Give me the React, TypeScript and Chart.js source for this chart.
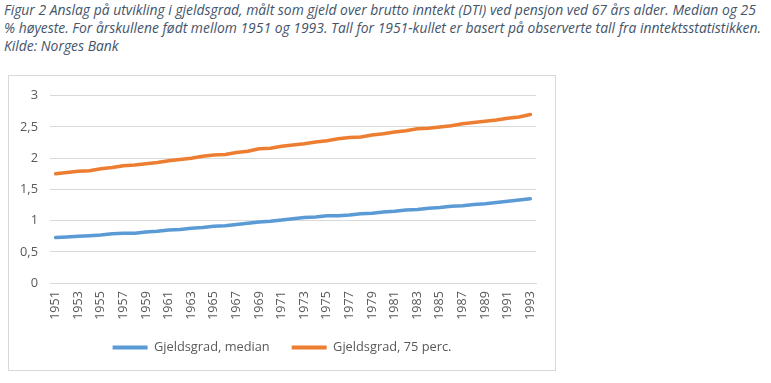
import React, { useEffect, useRef } from "react";
import { Chart, registerables } from "chart.js";

Chart.register(...registerables);

const years = [
  "1951", "1952", "1953", "1954", "1955", "1956", "1957", "1958", "1959", "1960",
  "1961", "1962", "1963", "1964", "1965", "1966", "1967", "1968", "1969", "1970",
  "1971", "1972", "1973", "1974", "1975", "1976", "1977", "1978", "1979", "1980",
  "1981", "1982", "1983", "1984", "1985", "1986", "1987", "1988", "1989", "1990",
  "1991", "1992", "1993",
];

const median = [
  0.73, 0.74, 0.75, 0.76, 0.77, 0.79, 0.8, 0.8, 0.82, 0.83,
  0.85, 0.86, 0.88, 0.89, 0.91, 0.92, 0.94, 0.96, 0.98, 0.99,
  1.01, 1.03, 1.05, 1.06, 1.08, 1.08, 1.09, 1.11, 1.12, 1.14,
  1.15, 1.17, 1.18, 1.2, 1.21, 1.23, 1.24, 1.26, 1.27, 1.29,
  1.31, 1.33, 1.35,
];

const p75 = [
  1.75, 1.77, 1.79, 1.8, 1.83, 1.85, 1.88, 1.89, 1.91, 1.93,
  1.96, 1.98, 2.0, 2.03, 2.05, 2.06, 2.09, 2.11, 2.15, 2.16,
  2.19, 2.21, 2.23, 2.26, 2.28, 2.31, 2.33, 2.34, 2.37, 2.39,
  2.42, 2.44, 2.47, 2.48, 2.5, 2.52, 2.55, 2.57, 2.59, 2.61,
  2.64, 2.66, 2.7,
];

const yTickLabels = ["0", "0,5", "1", "1,5", "2", "2,5", "3"];

const seriesNames = ["Gjeldsgrad, median", "Gjeldsgrad, 75 perc."];

const titleLines = [
  "Figur 2 Anslag på utvikling i gjeldsgrad, målt som gjeld over brutto inntekt (DTI) ved pensjon ved 67 års alder. Median og 25",
  "% høyeste. For årskullene født mellom 1951 og 1993. Tall for 1951-kullet er basert på observerte tall fra inntektsstatistikken.",
  "Kilde: Norges Bank",
];

const FONT = "'Open Sans', 'Liberation Sans', sans-serif";

export default function App() {
  const ref = useRef<HTMLCanvasElement>(null);

  useEffect(() => {
    const tickFont = { family: FONT, size: 12.5 };
    const chart = new Chart(ref.current!, {
      type: "line",
      data: {
        labels: years,
        datasets: [
          {
            label: seriesNames[0],
            data: median,
            borderColor: "#5B9BD5",
            backgroundColor: "#5B9BD5",
            borderWidth: 3.5,
            pointRadius: 0,
            tension: 0,
            borderCapStyle: "round",
            borderJoinStyle: "round",
          },
          {
            label: seriesNames[1],
            data: p75,
            borderColor: "#ED7D31",
            backgroundColor: "#ED7D31",
            borderWidth: 3.5,
            pointRadius: 0,
            tension: 0,
            borderCapStyle: "round",
            borderJoinStyle: "round",
          },
        ],
      },
      options: {
        responsive: false,
        animation: false,
        layout: { padding: { left: 0, right: 0, top: 17, bottom: 6 } },
        plugins: {
          tooltip: { enabled: false },
          legend: {
            position: "bottom",
            labels: {
              boxWidth: 35,
              boxHeight: 4,
              padding: 22,
              color: "#595959",
              font: { family: FONT, size: 12.8 },
              generateLabels: (c: any) =>
                Chart.defaults.plugins.legend.labels
                  .generateLabels(c)
                  .map((l: any) => ({ ...l, lineWidth: 0 })),
            },
          },
        },
        scales: {
          x: {
            offset: true,
            grid: { display: false, drawTicks: false },
            border: { display: true, color: "#d9d9d9" },
            ticks: {
              autoSkip: false,
              minRotation: 90,
              maxRotation: 90,
              padding: 8,
              color: "#595959",
              font: tickFont,
              callback: (_v: any, i: number) => (i % 2 === 0 ? years[i] : ""),
            },
            afterFit: (s: any) => {
              s.height = 36;
            },
          },
          y: {
            min: 0,
            max: 3,
            grid: { color: "#d9d9d9", drawTicks: false },
            border: { display: false },
            ticks: {
              stepSize: 0.5,
              padding: 12,
              color: "#595959",
              font: { family: FONT, size: 12.8 },
              callback: (v: any) => yTickLabels[Math.round(Number(v) * 2)],
            },
            afterFit: (s: any) => {
              s.width = 41;
            },
          },
          yRight: {
            position: "right",
            display: true,
            grid: { display: false, drawTicks: false },
            border: { display: false },
            ticks: { display: false },
            afterFit: (s: any) => {
              s.width = 19;
            },
          },
        },
      },
    } as any);
    return () => chart.destroy();
  }, []);

  return (
    <div
      style={{
        position: "absolute",
        left: 0,
        top: 0,
        width: 771,
        height: 383,
        background: "#ffffff",
        overflow: "hidden",
      }}
    >
      <div
        style={{
          position: "absolute",
          left: 4,
          top: 1,
          fontFamily: FONT,
          fontStyle: "italic",
          fontSize: 13.9,
          lineHeight: "18px",
          color: "#44546A",
          whiteSpace: "nowrap",
        }}
      >
        {titleLines.map((t, i) => (
          <div key={i}>{t}</div>
        ))}
      </div>
      <div
        style={{
          position: "absolute",
          left: 8,
          top: 75,
          width: 546,
          height: 294,
          border: "1px solid #d9d9d9",
        }}
      >
        <canvas ref={ref} width={546} height={294} style={{ display: "block" }} />
      </div>
    </div>
  );
}
